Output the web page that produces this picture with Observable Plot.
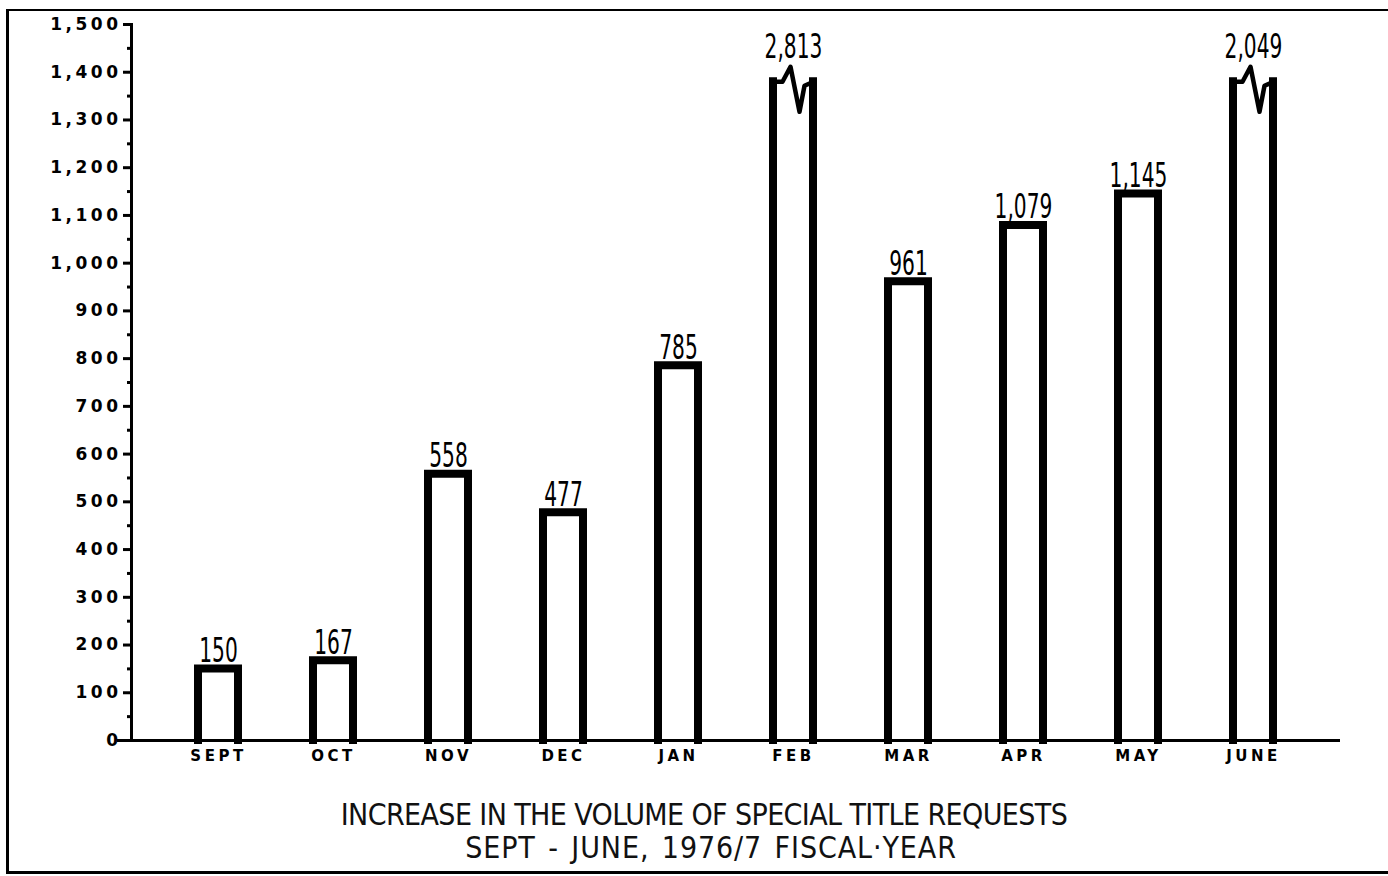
<!DOCTYPE html>
<html>
<head>
<meta charset="utf-8">
<script src="https://cdn.jsdelivr.net/npm/d3@7"></script>
<script src="https://cdn.jsdelivr.net/npm/@observablehq/plot@0.6"></script>
<style>
  html, body { margin: 0; padding: 0; background: #fff; overflow: hidden; }
  body { position: relative; width: 1388px; height: 876px; }
  #frame { position: absolute; left: 6px; top: 9px; width: 1400px; height: 860px;
           border-left: 3px solid #000; border-top: 2px solid #000; border-bottom: 3px solid #000; }
  #chart { position: absolute; left: 0; top: 0; }
  #caption { position: absolute; left: 204px; top: 798px; width: 1000px; text-align: center;
             font-family: "DejaVu Sans Condensed", "DejaVu Sans", sans-serif; font-stretch: condensed;
             font-size: 30px; line-height: 33px; color: #111; letter-spacing: -0.6px; }
  #caption .l2 { letter-spacing: 0.9px; word-spacing: 3px; padding-left: 14px; }
</style>
</head>
<body>
<div id="frame"></div>
<div id="chart"></div>
<div id="caption">INCREASE IN THE VOLUME OF SPECIAL TITLE REQUESTS<br><span class="l2">SEPT - JUNE, 1976/7 FISCAL·YEAR</span></div>
<script>
const months = ["SEPT", "OCT", "NOV", "DEC", "JAN", "FEB", "MAR", "APR", "MAY", "JUNE"];
const requests = [150, 167, 558, 477, 785, 2813, 961, 1079, 1145, 2049];
const majorTicks = d3.range(0, 1501, 100);
const minorTicks = d3.range(50, 1500, 100);
const axisBreak = 1380; // bars above this value are drawn broken

const data = months.map((m, i) => ({
  month: m,
  value: requests[i],
  shown: Math.min(requests[i], axisBreak),
  broken: requests[i] > axisBreak
}));
const whole = data.filter(d => !d.broken);
const broken = data.filter(d => d.broken);

// zig-zag "break" glyph drawn on top of broken bars
const zigzag = {
  draw(ctx) {
    ctx.moveTo(-20, 0);
    ctx.lineTo(-11, 0);
    ctx.lineTo(-3, -15);
    ctx.lineTo(6, 30);
    ctx.lineTo(11, 4);
    ctx.lineTo(20, 0);
  }
};

const fmt = d3.format(",");
const tickFont = "DejaVu Sans, sans-serif";
const valueFont = "DejaVu Sans Condensed, DejaVu Sans, sans-serif";

const plot = Plot.plot({
  width: 1388,
  height: 780,
  marginTop: 24,
  marginBottom: 40,
  marginLeft: 131,
  marginRight: 48,
  x: { domain: months, paddingInner: 0.653, paddingOuter: 0.574 },
  y: { domain: [0, 1500] },
  style: { background: "transparent", color: "#000" },
  marks: [
    Plot.axisY({ ticks: majorTicks, tickFormat: fmt, tickSize: 8, tickPadding: 2, strokeWidth: 3,
                 fontWeight: "bold", fontFamily: tickFont, label: null }),
    Plot.axisY({ ticks: minorTicks, tickFormat: () => "", tickSize: 4, strokeWidth: 3, label: null }),
    Plot.axisX({ tickSize: 0, tickPadding: 10, fontWeight: "bold", fontFamily: tickFont, label: null }),
    Plot.rectY(data, { x: "month", y: "shown", fill: "white", stroke: "black", strokeWidth: 8,
                       strokeLinecap: "square" }),
    Plot.frame({ anchor: "left", strokeWidth: 3 }),
    Plot.ruleY([0], { strokeWidth: 3, insetLeft: -14 }),
    Plot.dot(broken, { x: "month", y: "shown", symbol: zigzag, r: 1, stroke: "black", fill: "none",
                       strokeWidth: 4.5, strokeLinejoin: "round" }),
    Plot.text(whole, { x: "month", y: "shown", text: d => fmt(d.value), dy: -7, lineAnchor: "bottom",
                       fontSize: 34, fontFamily: valueFont }),
    Plot.text(broken, { x: "month", y: "shown", text: d => fmt(d.value), dy: -24, lineAnchor: "bottom",
                        fontSize: 34, fontFamily: valueFont })
  ]
});

const svg = d3.select(plot);

// draw the bars open at the bottom (and open at the top where broken)
svg.selectAll("g[stroke-width='8'] rect").each(function(_, i) {
  const r = d3.select(this);
  const w = +r.attr("width"), h = +r.attr("height");
  if (data[i].broken) {
    r.attr("stroke-dasharray", `${h} ${w}`).attr("stroke-dashoffset", h);
  } else {
    r.attr("stroke-dasharray", `${w + 2 * h} ${w}`).attr("stroke-dashoffset", h);
  }
});

// narrow the value labels horizontally around their anchor
svg.selectAll("g[aria-label='text'] text").each(function() {
  const t = d3.select(this);
  let tr = t.attr("transform");
  if (!tr) {
    const x = +t.attr("x") || 0, y = +t.attr("y") || 0;
    t.attr("x", null).attr("y", null);
    tr = `translate(${x},${y})`;
  }
  t.attr("transform", tr + " scale(0.66,1)");
});

svg.selectAll("g[aria-label='y-axis tick label']").attr("font-size", 17);
svg.selectAll("g[aria-label='y-axis tick label'] text").attr("letter-spacing", "3.5px");
svg.selectAll("g[aria-label='x-axis tick label']").attr("font-size", 15);
svg.selectAll("g[aria-label='x-axis tick label'] text").attr("letter-spacing", "3.5px");

document.getElementById("chart").appendChild(plot);
</script>
</body>
</html>
